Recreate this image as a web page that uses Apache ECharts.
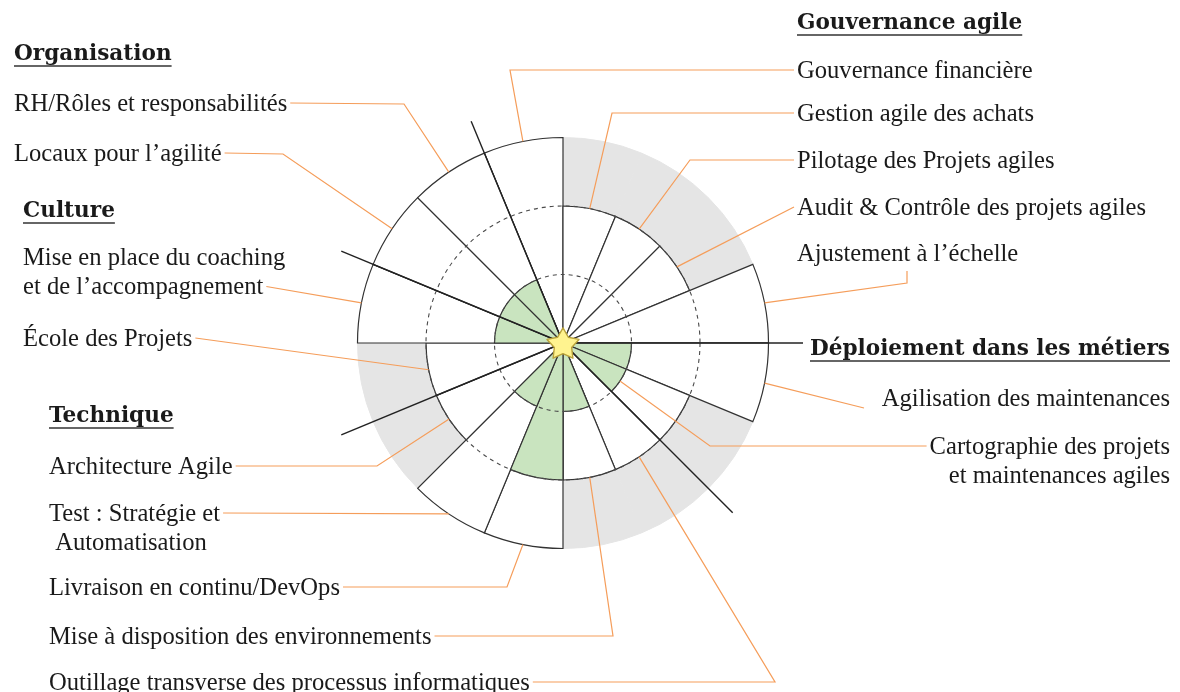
<!DOCTYPE html>
<html>
<head>
<meta charset="utf-8">
<title>Maturité agile</title>
<script src="https://cdn.jsdelivr.net/npm/echarts@6/dist/echarts.min.js"></script>
<style>
  html, body { margin: 0; padding: 0; background: #fff; }
  #chart { width: 1180px; height: 692px; }
</style>
</head>
<body>
<div id="chart"></div>
<script>
// ─── Données ──────────────────────────────────────────────
// Axes dans le sens horaire, le premier commence à -22.5° (nord = 0°)
const axes = [
  'Gouvernance financière',
  'Gestion agile des achats',
  'Pilotage des Projets agiles',
  'Audit & Contrôle des projets agiles',
  'Ajustement à l’échelle',
  'Agilisation des maintenances',
  'Cartographie des projets\net maintenances agiles',
  'Outillage transverse des processus informatiques',
  'Mise à disposition des environnements',
  'Livraison en continu/DevOps',
  'Test : Stratégie et\n Automatisation',
  'Architecture Agile',
  'École des Projets',
  'Mise en place du coaching\net de l’accompagnement',
  'Locaux pour l’agilité',
  'RH/Rôles et responsabilités'
];
const domains = ['Gouvernance agile', 'Déploiement dans les métiers', 'Technique', 'Culture', 'Organisation'];
const domainOf = [0, 0, 0, 0, 0, 1, 1, 2, 2, 2, 2, 2, 3, 3, 4, 4];
const target = [3, 2, 2, 2, 3, 3, 2, 2, 2, 3, 3, 2, 2, 3, 3, 3];   // niveau visé (secteur blanc)
const current = [0, 0, 0, 0, 0, 1, 1, 0, 1, 2, 1, 0, 0, 1, 1, 1];  // niveau atteint (vert)
const levels = [1, 2, 3];

// ─── Mise en page ─────────────────────────────────────────
const CENTER = [563, 343];
const RADIUS = 205.5;
const OUTER_LINE = 240;
const FONT = '24.6px "Liberation Serif", serif';
const FONT_BOLD = 'bold 21.6px "DejaVu Serif", serif';
const TEXT = '#1a1a1a';
const ORANGE = '#f59d5a';
const LINE_GAP = 29.5;
const DY = 1.5;   // petit décalage vertical du texte

// position des titres de domaines
const headerPos = [
  { x: 797, y: 22, align: 'left' },
  { x: 1170, y: 348, align: 'right' },
  { x: 49, y: 415, align: 'left' },
  { x: 23, y: 210, align: 'left' },
  { x: 14, y: 53, align: 'left' }
];

// position des libellés + tracé des renvois
// side 'L' : renvoi depuis la fin du texte, 'R' : depuis le début
const labelPos = [
  { x: 797, y: 70, align: 'left', side: 'R', via: [[510, 70]] },
  { x: 797, y: 113, align: 'left', side: 'R', via: [[612, 113]] },
  { x: 797, y: 160, align: 'left', side: 'R', via: [[690, 160]] },
  { x: 797, y: 207, align: 'left', side: 'R', via: [] },
  { x: 797, y: 253, align: 'left', side: 'R', from: [907, 271], via: [[907, 283]] },
  { x: 1170, y: 398, align: 'right', side: 'R', from: [864, 408], via: [] },
  { x: 1170, y: 446, align: 'right', side: 'R', via: [[710, 446]], endAt: 'current' },
  { x: 49, y: 682, align: 'left', side: 'L', via: [[775, 682]] },
  { x: 49, y: 636, align: 'left', side: 'L', via: [[613, 636]] },
  { x: 49, y: 587, align: 'left', side: 'L', via: [[507, 587]] },
  { x: 49, y: 513, align: 'left', side: 'L', via: [] },
  { x: 49, y: 466, align: 'left', side: 'L', via: [[377, 466]] },
  { x: 23, y: 338, align: 'left', side: 'L', via: [] },
  { x: 23, y: 257, align: 'left', side: 'L', lead: 1, via: [] },
  { x: 14, y: 153, align: 'left', side: 'L', via: [[283, 154]] },
  { x: 14, y: 103, align: 'left', side: 'L', via: [[404, 104]] }
];

// ─── Étoile centrale ──────────────────────────────────────
const STAR = (() => {
  const pts = [];
  for (let k = 0; k < 10; k++) {
    const r = k % 2 ? 0.54 : 1;
    const a = -Math.PI / 2 + k * Math.PI / 5;
    pts.push((50 + 50 * r * Math.cos(a)).toFixed(2) + ',' + (50 + 50 * r * Math.sin(a)).toFixed(2));
  }
  return 'path://M' + pts.join(' L') + ' Z';
})();

const maxLevel = levels[levels.length - 1];
// séparateurs de domaines : là où le domaine change
const boundaryColors = domainOf.map((d, i) =>
  d !== domainOf[(i + domainOf.length - 1) % domainOf.length] ? '#222' : 'rgba(0,0,0,0)');
// cercles pointillés : niveaux intermédiaires uniquement
const ringColors = [0].concat(levels).map(v =>
  v > 0 && v < maxLevel ? '#4a4a4a' : 'rgba(0,0,0,0)');

const hidden = { axisLine: { show: false }, axisTick: { show: false }, axisLabel: { show: false } };
const barBase = {
  type: 'bar', coordinateSystem: 'polar', polarIndex: 0,
  barCategoryGap: '0%', barGap: '-100%', silent: true
};

const chart = echarts.init(document.getElementById('chart'), null, { renderer: 'canvas' });

chart.setOption({
  animation: false,
  polar: [
    { center: CENTER, radius: RADIUS },
    { center: CENTER, radius: OUTER_LINE }
  ],
  angleAxis: [
    Object.assign({ polarIndex: 0, type: 'category', data: axes, startAngle: 112.5, clockwise: true,
      splitLine: { show: false } }, hidden),
    Object.assign({ polarIndex: 1, type: 'category', data: axes, startAngle: 112.5, clockwise: true, z: 8,
      splitLine: { show: true, lineStyle: { color: boundaryColors, width: 1.4 } } }, hidden)
  ],
  radiusAxis: [
    Object.assign({ polarIndex: 0, type: 'value', min: 0, max: maxLevel, interval: 1, z: 6,
      splitLine: { show: true, lineStyle: { color: ringColors, type: [4, 4], width: 1.1 } } }, hidden),
    Object.assign({ polarIndex: 1, type: 'value', min: 0, max: 1,
      splitLine: { show: false } }, hidden)
  ],
  series: [
    Object.assign({}, barBase, {
      name: 'fond', z: 1, data: axes.map(() => maxLevel),
      itemStyle: { color: '#e5e5e5', borderColor: '#e5e5e5', borderWidth: 1 }
    }),
    Object.assign({}, barBase, {
      name: 'cible', z: 2, data: target,
      itemStyle: { color: '#ffffff', borderColor: '#333', borderWidth: 1.2 }
    }),
    Object.assign({}, barBase, {
      name: 'actuel', z: 3, data: current,
      itemStyle: { color: '#c9e4bf', borderColor: '#333', borderWidth: 1.2 }
    }),
    {
      type: 'scatter', coordinateSystem: 'polar', polarIndex: 0, z: 20, silent: true,
      data: [[0, 0]], symbol: STAR, symbolSize: 32, symbolKeepAspect: true,
      itemStyle: { color: '#fff38f', borderColor: '#b9a23a', borderWidth: 1.4, borderJoin: 'round', opacity: 1 }
    }
  ]
});

// ─── Libellés et renvois ──────────────────────────────────
const measure = (() => {
  const ctx = document.createElement('canvas').getContext('2d');
  return (text, font) => { ctx.font = font; return ctx.measureText(text).width; };
})();

function polarPoint(level, idx) {
  const p = chart.convertToPixel({ polarIndex: 0 }, [level, idx]);
  if (p && isFinite(p[0])) return p;
  // repli : calcul direct
  const a = (idx + 0.5) * 2 * Math.PI / axes.length - Math.PI / 8;
  const r = RADIUS * level / maxLevel;
  return [CENTER[0] + r * Math.sin(a), CENTER[1] - r * Math.cos(a)];
}

const graphics = [];

domains.forEach((h, i) => {
  const pos = headerPos[i];
  const w = measure(h, FONT_BOLD);
  const x0 = pos.align === 'right' ? pos.x - w : pos.x;
  graphics.push({
    type: 'text', x: pos.x, y: pos.y + DY,
    style: { text: h, font: FONT_BOLD, fill: TEXT, align: pos.align, verticalAlign: 'middle' }
  });
  graphics.push({
    type: 'line', shape: { x1: x0, y1: pos.y + 13, x2: x0 + w, y2: pos.y + 13 },
    style: { stroke: '#333', lineWidth: 1.3 }
  });
});

axes.forEach((name, i) => {
  const L = labelPos[i];
  const lines = name.split('\n');
  lines.forEach((t, j) => {
    graphics.push({
      type: 'text', x: L.x, y: L.y + j * LINE_GAP + DY,
      style: { text: t, font: FONT, fill: TEXT, align: L.align, verticalAlign: 'middle' }
    });
  });
  const k = L.lead || 0;
  const w = measure(lines[k], FONT);
  const ly = L.y + k * LINE_GAP;
  let start;
  if (L.from) start = L.from;
  else if (L.side === 'L') start = [(L.align === 'right' ? L.x : L.x + w) + 3, ly];
  else start = [(L.align === 'right' ? L.x - w : L.x) - 3, ly];
  const lvl = L.endAt === 'current' ? current[i] : target[i];
  const end = polarPoint(lvl, i);
  graphics.push({
    type: 'polyline', z: 30,
    shape: { points: [start].concat(L.via, [end]) },
    style: { stroke: ORANGE, lineWidth: 1.2, fill: null }
  });
});

chart.setOption({ graphic: { elements: graphics } });
</script>
</body>
</html>
